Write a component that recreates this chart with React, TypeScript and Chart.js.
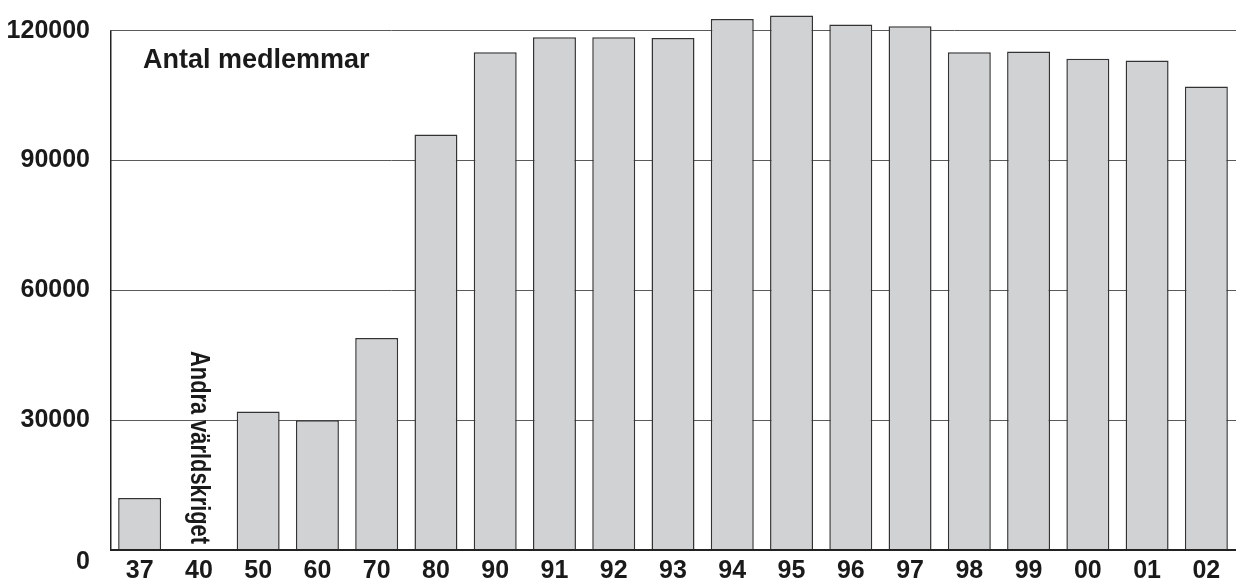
import React, { useEffect, useRef } from "react";
import { Chart, registerables } from "chart.js";

Chart.register(...registerables);

const categories = ["37", "40", "50", "60", "70", "80", "90", "91", "92", "93", "94", "95", "96", "97", "98", "99", "00", "01", "02"];
const members = [12000, 0, 32000, 30000, 49000, 96000, 115000, 118500, 118500, 118300, 122700, 123500, 121400, 121000, 115000, 115200, 113500, 113100, 107100];
const yTicks = [0, 30000, 60000, 90000, 120000];
const titleText = "Antal medlemmar";
const warText = "Andra världskriget";
const warIndex = 1;

const SANS = '"Liberation Sans", Arial, sans-serif';

const overlay = {
  id: "overlay",
  beforeDatasetsDraw(chart: any) {
    const { ctx, chartArea, scales } = chart;
    const y = scales.y;
    ctx.save();
    ctx.strokeStyle = "#222";
    ctx.lineWidth = 1.5;
    ctx.beginPath();
    ctx.moveTo(chartArea.left + 0.75, y.getPixelForValue(0));
    ctx.lineTo(chartArea.left + 0.75, y.getPixelForValue(yTicks[yTicks.length - 1]));
    ctx.stroke();
    ctx.restore();
  },
  afterDatasetsDraw(chart: any) {
    const { ctx, chartArea, scales } = chart;
    const x = scales.x;
    const y = scales.y;
    ctx.save();
    ctx.strokeStyle = "#222";
    ctx.lineWidth = 2;
    ctx.beginPath();
    ctx.moveTo(chartArea.left, y.getPixelForValue(0));
    ctx.lineTo(chartArea.right, y.getPixelForValue(0));
    ctx.stroke();
    ctx.fillStyle = "#1a1a1a";
    ctx.font = "bold 27px " + SANS;
    ctx.textAlign = "left";
    ctx.textBaseline = "alphabetic";
    ctx.fillText(titleText, chartArea.left + 33, y.getPixelForValue(yTicks[yTicks.length - 1]) + 37);
    const cx = x.getPixelForValue(warIndex);
    ctx.translate(cx, y.getPixelForValue(0) - 6);
    ctx.rotate(Math.PI / 2);
    ctx.scale(0.78, 1);
    ctx.font = "bold 28px " + SANS;
    ctx.textAlign = "right";
    ctx.textBaseline = "middle";
    ctx.fillText(warText, 0, 0);
    ctx.restore();
  },
};

export default function App() {
  const canvasRef = useRef<HTMLCanvasElement | null>(null);

  useEffect(() => {
    document.body.style.margin = "0";
    const canvas = canvasRef.current;
    if (!canvas) return;
    const chart = new Chart(canvas, {
      type: "bar",
      data: {
        labels: categories,
        datasets: [
          {
            data: members,
            backgroundColor: "#d1d2d4",
            borderColor: "#333333",
            borderWidth: 1.5,
            categoryPercentage: 1,
            barPercentage: 0.725,
          },
        ],
      },
      options: {
        animation: false,
        responsive: true,
        maintainAspectRatio: false,
        layout: { padding: { top: 9, right: 0, left: 0, bottom: 0 } },
        plugins: {
          legend: { display: false },
          tooltip: { enabled: false },
          title: { display: false },
        },
        scales: {
          x: {
            grid: { display: false, drawTicks: false },
            border: { display: false },
            ticks: {
              color: "#1a1a1a",
              font: { family: SANS, size: 25, weight: "bold" },
              padding: 6,
              maxRotation: 0,
              autoSkip: false,
            },
            afterFit(scale: any) {
              scale.height = 35;
              scale.paddingLeft = 0;
              scale.paddingRight = 0;
            },
          },
          y: {
            min: 0,
            max: 125000,
            afterBuildTicks(scale: any) {
              scale.ticks = yTicks.map((v) => ({ value: v }));
            },
            grid: {
              drawTicks: false,
              color: (c: any) => (c.tick && c.tick.value === 0 ? "rgba(0,0,0,0)" : "#5a5a5a"),
              lineWidth: 1,
            },
            border: { display: false },
            ticks: {
              color: "#1a1a1a",
              font: { family: SANS, size: 25, weight: "bold", lineHeight: 1 },
              padding: 20,
              callback: (v: any) => (Number(v) === 0 ? ["", "0"] : String(v)),
            },
            afterFit(scale: any) {
              scale.width = 110;
              scale.paddingTop = 0;
              scale.paddingBottom = 0;
            },
          },
        },
      },
      plugins: [overlay],
    });
    return () => chart.destroy();
  }, []);

  return (
    <div style={{ position: "relative", width: "1236px", height: "585px" }}>
      <canvas ref={canvasRef} />
    </div>
  );
}
